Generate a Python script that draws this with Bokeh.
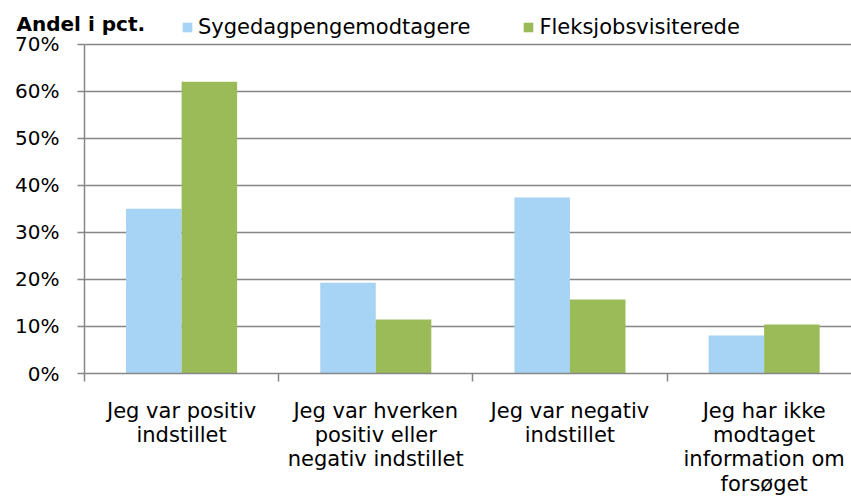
from bokeh.plotting import figure
from bokeh.models import (ColumnDataSource, FixedTicker, PrintfTickFormatter,
                          Legend, LegendItem, Range1d)
from bokeh.embed import file_html
from bokeh.resources import INLINE

categories = ["Jeg var positiv\nindstillet",
              "Jeg var hverken\npositiv eller\nnegativ indstillet",
              "Jeg var negativ\nindstillet",
              "Jeg har ikke\nmodtaget\ninformation om\nforsøget"]
series_names = ["Sygedagpengemodtagere", "Fleksjobsvisiterede"]
sygedagpenge = [35.0, 19.3, 37.4, 8.1]
fleksjob = [62.0, 11.5, 15.7, 10.4]
y_ticks = [0, 10, 20, 30, 40, 50, 60, 70]

BLUE = "#A7D3F4"
GREEN = "#9BBB59"
GRID = "#868686"
FONT = "DejaVu Sans"

idx = list(range(len(categories)))
bw = 0.286
src = ColumnDataSource(dict(
    xb=[i + 0.5 - bw / 2 for i in idx],
    xg=[i + 0.5 + bw / 2 for i in idx],
    syg=sygedagpenge, flex=fleksjob))

# frame spans from y=10 to y=372.5; 70 % sits at y=43.5
p = figure(width=851, height=498, output_backend="svg", toolbar_location=None,
           x_range=Range1d(0, 3.95), y_range=Range1d(0, 77.13),
           min_border_left=84, min_border_right=0, min_border_top=10,
           min_border_bottom=125)
p.outline_line_color = None
p.background_fill_color = "white"
p.border_fill_color = "white"

r1 = p.vbar(x="xb", top="syg", width=bw, source=src, fill_color=BLUE, line_color=None)
r2 = p.vbar(x="xg", top="flex", width=bw, source=src, fill_color=GREEN, line_color=None)

# y axis
p.yaxis.ticker = FixedTicker(ticks=y_ticks)
p.yaxis.bounds = (0, 70)
p.yaxis.formatter = PrintfTickFormatter(format="%d%%")
p.yaxis.axis_line_color = GRID
p.yaxis.axis_line_width = 1.5
p.yaxis.major_tick_line_color = GRID
p.yaxis.major_tick_line_width = 1.5
p.yaxis.major_tick_out = 7
p.yaxis.major_tick_in = 0
p.yaxis.minor_tick_line_color = None
p.yaxis.major_label_text_font = FONT
p.yaxis.major_label_text_font_size = "20px"
p.yaxis.major_label_text_color = "black"
p.yaxis.major_label_standoff = 18
p.ygrid.grid_line_color = GRID
p.ygrid.grid_line_width = 1.5
p.ygrid.ticker = FixedTicker(ticks=y_ticks)

# x axis
p.xaxis.ticker = FixedTicker(ticks=[i + 0.5 for i in idx], minor_ticks=[float(i) for i in idx] + [4.0])
p.xaxis.major_label_overrides = {i + 0.5: c for i, c in zip(idx, categories)}
p.xaxis.axis_line_color = GRID
p.xaxis.axis_line_width = 1.5
p.xaxis.major_tick_line_color = None
p.xaxis.minor_tick_line_color = GRID
p.xaxis.minor_tick_line_width = 1.5
p.xaxis.minor_tick_out = 8
p.xaxis.minor_tick_in = 0
p.xaxis.major_label_text_font = FONT
p.xaxis.major_label_text_font_size = "21px"
p.xaxis.major_label_text_color = "black"
p.xaxis.major_label_text_line_height = 1.02
p.xaxis.major_label_standoff = 17
p.xgrid.grid_line_color = None

# title
p.title.text = "Andel i pct."
p.title.text_font = FONT
p.title.text_font_size = "20px"
p.title.text_font_style = "bold"
p.title.text_color = "black"
p.title.align = "left"
p.title.offset = -68
p.title.standoff = -50

legend = Legend(items=[LegendItem(label=series_names[0], renderers=[r1]),
                       LegendItem(label=series_names[1], renderers=[r2])],
                orientation="horizontal", location=(97, 334),
                glyph_width=12, glyph_height=12, label_standoff=5, spacing=52,
                padding=0, margin=0, border_line_color=None,
                background_fill_alpha=0,
                label_text_font=FONT, label_text_font_size="21px",
                label_text_color="black")
p.add_layout(legend, "center")

open("out.html", "w").write(file_html(p, INLINE))
